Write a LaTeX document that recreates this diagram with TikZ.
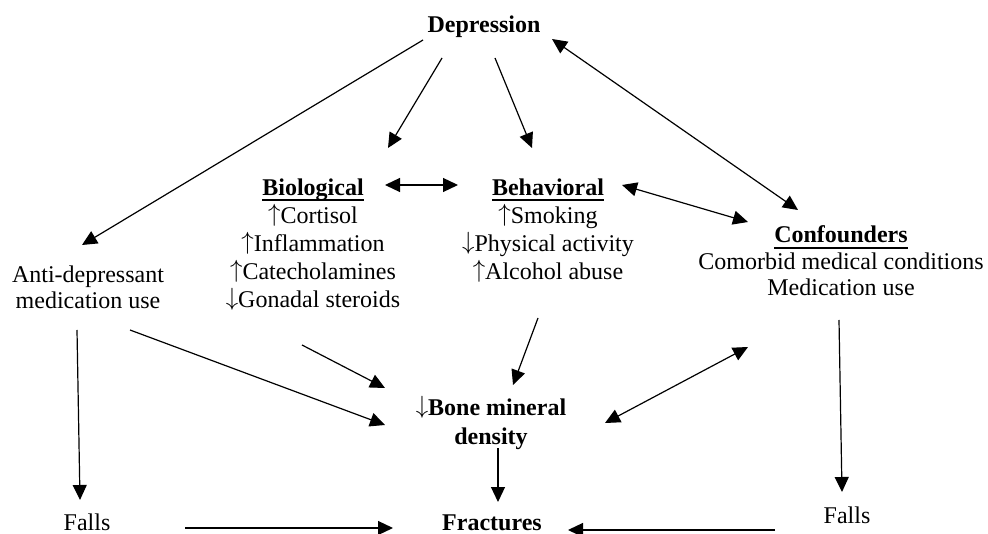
\documentclass[tikz,border=0pt]{standalone}
\usepackage{fontspec}
\setmainfont{Liberation Serif}
\usepackage{tikz}
\usetikzlibrary{arrows.meta, calc}

% bold heading with a heavy underline
\newcommand{\headword}[1]{\setbox0=\hbox{\textbf{#1}}\leavevmode\rlap{\rule[-6pt]{\wd0}{2pt}}\box0}
% tall up / down arrows in front of a word
\newcommand{\upar}{\raisebox{2pt}{$\uparrow$}}
\newcommand{\dnar}{\raisebox{2pt}{$\downarrow$}}

\begin{document}
\begin{tikzpicture}[
    x=1pt, y=-1pt,
    every node/.style={inner sep=0pt, align=center, font=\fontsize{24}{27}\selectfont},
    link/.style={-{Triangle[length=15pt,width=14pt]}, line width=1.2pt},
    twoway/.style={{Triangle[length=15pt,width=14pt]}-{Triangle[length=15pt,width=14pt]}, line width=1.2pt}
]
    \useasboundingbox (0,0) rectangle (988,534);

    % Nodes
    \node[anchor=base] (depr) at (484,33) {\textbf{Depression}};
    \node[anchor=north, font=\fontsize{24}{28}\selectfont] (bio) at (313,178.5)
        {\headword{Biological}\\ \upar Cortisol\\ \upar Inflammation\\ \upar Catecholamines\\ \dnar Gonadal steroids};
    \node[anchor=north, font=\fontsize{24}{28}\selectfont] (beh) at (548,178.5)
        {\headword{Behavioral}\\ \upar Smoking\\ \dnar Physical activity\\ \upar Alcohol abuse};
    \node[anchor=north, font=\fontsize{24}{26.5}\selectfont] (conf) at (841,225.5)
        {\headword{Confounders}\\ Comorbid medical conditions\\ Medication use};
    \node[anchor=north, font=\fontsize{24}{26}\selectfont] (anti) at (88,265.5) {Anti-depressant\\ medication use};
    \node[anchor=north, font=\fontsize{24}{29}\selectfont] (bmd) at (491,396.5) {\dnar\textbf{Bone mineral}\\ \textbf{density}};
    \node[anchor=base] (frac) at (492,530) {\textbf{Fractures}};
    \node[anchor=base] (fallsL) at (87,530) {Falls};
    \node[anchor=base] (fallsR) at (847,523) {Falls};

    % Edges from depression
    \draw[link] ($(depr.base)+(-61,7)$) -- ($(anti.north)+(-6,-20.5)$);
    \draw[link] ($(depr.base)+(-42,25)$) -- ($(bio.north)+(75,-30.5)$);
    \draw[link] ($(depr.base)+(11,25)$) -- ($(beh.north)+(-16,-30.5)$);
    \draw[twoway] ($(depr.base)+(68,6)$) -- ($(conf.north)+(-43,-15.5)$);

    % Edges (middle row)
    \draw[twoway] ($(bio.north)+(72,6.5)$) -- ($(beh.north)+(-90,6.5)$);
    \draw[twoway] ($(beh.north)+(74,6.5)$) -- ($(conf.north)+(-93,-3.5)$);

    % Edges to bone mineral density
    \draw[link] ($(anti.north)+(42,64.5)$) -- ($(bmd.north)+(-106,28.5)$);
    \draw[link] ($(bio.north)+(-11,166.5)$) -- ($(bmd.north)+(-106,-8.5)$);
    \draw[link] ($(beh.north)+(-10,139.5)$) -- ($(bmd.north)+(22,-11.5)$);
    \draw[twoway] ($(bmd.north)+(114,26.5)$) -- ($(conf.north)+(-93,121.5)$);

    % Edges to falls and fractures
    \draw[link] ($(anti.north)+(-11,64.5)$) -- ($(fallsL.base)+(-7,-30)$);
    \draw[link] ($(conf.north)+(-2,94.5)$) -- ($(fallsR.base)+(-5,-31)$);
    \draw[link] ($(bmd.north)+(7,51.5)$) -- ($(frac.base)+(6,-28)$);
    \draw[link] ($(fallsL.base)+(98,-2)$) -- ($(frac.base)+(-99,-2)$);
    \draw[link] ($(fallsR.base)+(-72,7)$) -- ($(frac.base)+(76,0)$);
\end{tikzpicture}
\end{document}
